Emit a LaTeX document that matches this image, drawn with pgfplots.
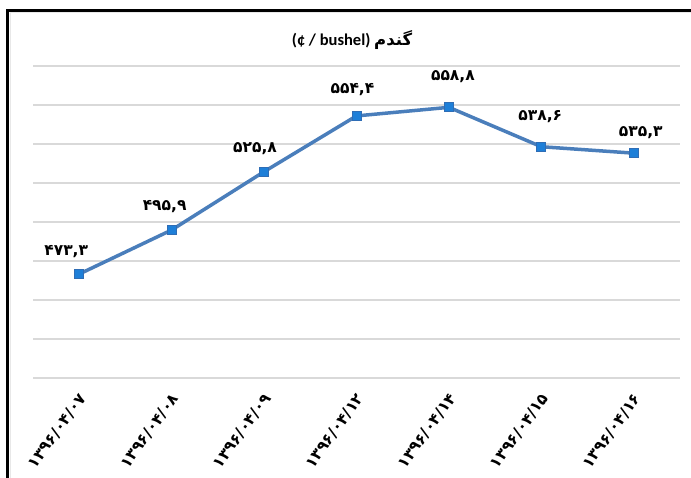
\documentclass[border=0pt]{standalone}
\usepackage{pgfplots}
\pgfplotsset{compat=1.18}
\usepackage{pgfplotstable}
\usepackage{fontspec}
\setmainfont{Carlito}
\newfontfamily\fa[Script=Arabic]{DejaVu Sans}
\TeXXeTstate=1
\definecolor{lineblue}{HTML}{4A7EBB}
\definecolor{markblue}{HTML}{1E7FD8}
\definecolor{markedge}{HTML}{2F6DB5}
\definecolor{gridgray}{HTML}{D9D9D9}
\pgfplotstableread{
x y lab dx dy
0 473.3 ۴۷۳,۳ -13 22
1 495.9 ۴۹۵,۹ -7 23
2 525.8 ۵۲۵,۸ -9 23
3 554.4 ۵۵۴,۴ -4 26
4 558.8 ۵۵۸,۸ 4 31
5 538.6 ۵۳۸,۶ -1 30
6 535.3 ۵۳۵,۳ 7 21
}\data
\begin{document}
\begin{tikzpicture}[x=1pt,y=1pt]
\useasboundingbox (0,0) rectangle (691,478);
\fill[white] (0,0) rectangle (691,478);
\begin{axis}[
  at={(33pt,100pt)}, anchor=south west,
  scale only axis, width=647pt, height=312pt,
  xmin=-0.5, xmax=6.5, ymin=420, ymax=580,
  axis line style={draw=none},
  ytick={420,440,...,580}, yticklabels={},
  ymajorgrids, major grid style={gridgray, line width=1.5pt},
  major tick length=0pt,
  xtick={0,...,6},
  xticklabels={۱۳۹۶/۰۴/۰۷,۱۳۹۶/۰۴/۰۸,۱۳۹۶/۰۴/۰۹,۱۳۹۶/۰۴/۱۲,۱۳۹۶/۰۴/۱۴,۱۳۹۶/۰۴/۱۵,۱۳۹۶/۰۴/۱۶},
  xticklabel style={font=\fa\bfseries\fontsize{15.5}{15.5}\selectfont, rotate=54, anchor=east, xshift=-8.6pt, yshift=-13.5pt},
  clip=false,
]
\addplot[lineblue, line width=3.5pt, mark=square*,
  mark options={fill=markblue, draw=markedge, line width=0.8pt, mark size=4.5pt},
  point meta=explicit symbolic,
  visualization depends on={\thisrow{dx} \as \mydx},
  visualization depends on={\thisrow{dy} \as \mydy},
  nodes near coords={\fa\bfseries\fontsize{15.5}{15.5}\selectfont\pgfplotspointmeta},
  nodes near coords style={anchor=center, xshift=\mydx pt, yshift=\mydy pt, black, inner sep=0pt},
] table[x=x, y=y, meta=lab] {\data};
\end{axis}
\node[font=\bfseries\fontsize{16.5}{16.5}\selectfont] at (352,438) {(¢ / bushel) {\fa\beginR گندم\endR}};
\draw[gridgray!60, line width=1pt] (10.5,0) -- (10.5,465.5) -- (691,465.5);
\draw[black, line width=3pt] (7.5,0) -- (7.5,467.7) -- (691,467.7);
\end{tikzpicture}
\end{document}
